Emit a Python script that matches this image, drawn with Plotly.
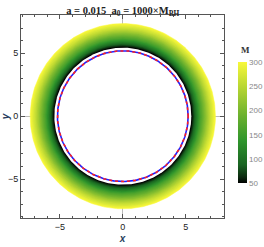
import numpy as np
import plotly.graph_objects as go
from plotly.colors import sample_colorscale

# Data
mass_levels = [50, 60, 70, 80, 90, 100, 110, 120, 130, 140, 150, 160, 170, 180, 190,
               200, 210, 220, 230, 240, 250, 260, 270, 280, 290, 300]
shadow_radius = [5.50, 5.56, 5.62, 5.68, 5.74, 5.80, 5.86, 5.93, 5.99, 6.05, 6.12, 6.19,
                 6.27, 6.35, 6.43, 6.51, 6.59, 6.66, 6.74, 6.82, 6.90, 6.99, 7.09, 7.18,
                 7.28, 7.37]
photon_ring_radius = 5.2
inner_white_radius = 5.45
cbar_ticks = [50, 100, 150, 200, 250, 300]

colorscale = [[0.0, "#000000"], [0.05, "#0c2a10"], [0.15, "#1a6422"], [0.35, "#2f962c"],
              [0.55, "#6ab02e"], [0.78, "#b4d432"], [1.0, "#f8f83a"]]

theta = np.linspace(0, 2 * np.pi, 361)
cx, cy = np.cos(theta), np.sin(theta)

fig = go.Figure()
mmin, mmax = min(mass_levels), max(mass_levels)
for m, r in sorted(zip(mass_levels, shadow_radius), key=lambda t: -t[1]):
    col = sample_colorscale(colorscale, [(m - mmin) / (mmax - mmin)])[0]
    fig.add_trace(go.Scatter(x=r * cx, y=r * cy, mode="lines", fill="toself",
                             fillcolor=col, line=dict(color=col, width=0.5),
                             hoverinfo="skip", showlegend=False))

fig.add_trace(go.Scatter(x=inner_white_radius * cx, y=inner_white_radius * cy,
                         mode="lines", fill="toself", fillcolor="white",
                         line=dict(color="white", width=0), hoverinfo="skip",
                         showlegend=False))
fig.add_trace(go.Scatter(x=photon_ring_radius * cx, y=photon_ring_radius * cy,
                         mode="lines", line=dict(color="#2020ff", width=1.6),
                         hoverinfo="skip", showlegend=False))
fig.add_trace(go.Scatter(x=photon_ring_radius * cx, y=photon_ring_radius * cy,
                         mode="lines", line=dict(color="#ff2020", width=1.6, dash="3px,3px"),
                         hoverinfo="skip", showlegend=False))

# colorbar carrier
fig.add_trace(go.Scatter(x=[None], y=[None], mode="markers", showlegend=False,
                         marker=dict(colorscale=colorscale, cmin=50, cmax=300, color=[50],
                                     showscale=True,
                                     colorbar=dict(x=1.069, xanchor="left", xpad=0, ypad=0,
                                                   y=0.47, yanchor="middle", len=0.596,
                                                   lenmode="fraction",
                                                   thickness=9, outlinewidth=0,
                                                   tickvals=cbar_ticks, ticks="",
                                                   tickfont=dict(size=8, color="#888888",
                                                                 family="Liberation Sans")))))

fig.add_annotation(text="<b>M</b>", xref="paper", yref="paper", x=1.108, y=0.828,
                   xanchor="center", yanchor="middle", showarrow=False,
                   font=dict(size=9, color="#333333", family="Liberation Serif"))

axis_common = dict(range=[-8.1, 8.05], dtick=5, ticks="inside", ticklen=4, tickcolor="#555555",
                   minor=dict(dtick=1, ticks="inside", ticklen=2, tickcolor="#555555"),
                   showline=True, linecolor="#555555", linewidth=1, mirror="allticks",
                   showgrid=False, zeroline=True, zerolinecolor="#bbbbbb", zerolinewidth=1,
                   tickfont=dict(size=9, color="#222222", family="Liberation Sans"))

fig.update_layout(
    width=264, height=247,
    margin=dict(l=21, r=40, t=15, b=29, autoexpand=False),
    paper_bgcolor="white", plot_bgcolor="white",
    title=dict(text="<b>a = 0.015  a<sub>0</sub> = 1000×M<sub>BH</sub></b>",
               x=0.465, xanchor="center", y=0.975, yanchor="top",
               font=dict(size=10.5, family="Liberation Serif", color="#222222")),
    xaxis=dict(**axis_common, title=dict(text="<b><i>x</i></b>", standoff=4,
                                         font=dict(size=10, family="Liberation Sans"))),
    yaxis=dict(**axis_common, title=dict(text="<b><i>y</i></b>", standoff=4,
                                         font=dict(size=10, family="Liberation Sans"))),
)
fig.update_yaxes(tickangle=0)

fig.write_html("out.html", config={"displayModeBar": False},
               post_script="document.body.style.margin='0px';")
